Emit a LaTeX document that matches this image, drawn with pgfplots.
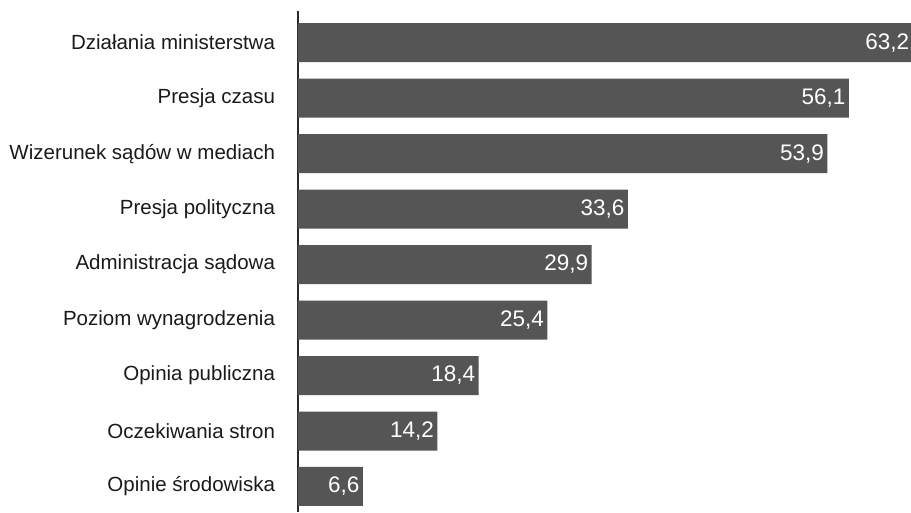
\documentclass[border=0pt]{standalone}
\usepackage{pgfplots}
\pgfplotsset{compat=1.18}
\usepackage{fontspec}
\setmainfont{Liberation Sans}
\definecolor{barc}{HTML}{555555}
\definecolor{axc}{HTML}{2A2A2A}
\definecolor{txt}{HTML}{1A1A1A}
\begin{document}
\begin{tikzpicture}
\path[use as bounding box, clip] (-298pt,0pt) rectangle (613pt,512pt);
\begin{axis}[
  at={(0,0)}, anchor=south west,
  scale only axis, width=613pt, height=501pt,
  clip=false,
  xbar, bar width=39pt,
  xmin=0, xmax=62.42,
  ymin=-0.57, ymax=8.46, y dir=reverse,
  axis x line=none,
  axis y line*=left,
  y axis line style={axc, line width=2pt},
  xtick=\empty,
  ytick={0,...,8},
  yticklabels={Działania ministerstwa, Presja czasu, Wizerunek sądów w mediach, Presja polityczna, Administracja sądowa, Poziom wynagrodzenia, Opinia publiczna, Oczekiwania stron, Opinie środowiska},
  major tick length=0pt,
  yticklabel style={font=\fontsize{20.5}{24}\selectfont, text=txt, xshift=-19.5pt},
  visualization depends on=rawx \as \rx,
  nodes near coords={\pgfmathprintnumber[fixed,fixed zerofill,precision=1,use comma,assume math mode=true]{\pgfplotspointmeta}},
  every node near coord/.append style={anchor=east, text=white, font=\fontsize{22.5}{26}\selectfont, xshift={-6*(\rx>60)}},
]
\addplot[draw=none, fill=barc] coordinates {
  (63.2,0) (56.1,1) (53.9,2) (33.6,3) (29.9,4) (25.4,5) (18.4,6) (14.2,7) (6.6,8)
};
\end{axis}
\end{tikzpicture}
\end{document}
